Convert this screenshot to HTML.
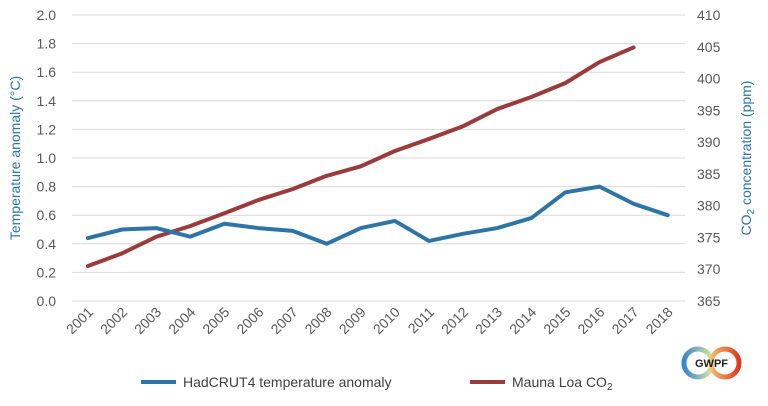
<!DOCTYPE html>
<html><head><meta charset="utf-8"><style>
body{margin:0;background:#fff;}
svg{display:block;font-family:"Liberation Sans",sans-serif;}
</style></head><body>
<svg id="chart" width="768" height="406" viewBox="0 0 768 406">
<defs>
<linearGradient id="gl" x1="0" x2="1"><stop offset="0" stop-color="#3a86c8"/><stop offset="1" stop-color="#d9e8a0"/></linearGradient>
<linearGradient id="gr" x1="0" x2="1"><stop offset="0" stop-color="#f0c070"/><stop offset="1" stop-color="#e03a1e"/></linearGradient>
</defs>
<g id="grid"></g><g id="axes"></g><g id="series"></g>
<text transform="translate(20,158) rotate(-90)" text-anchor="middle" font-size="14" fill="#2e75a6">Temperature anomaly (°C)</text>
<text transform="translate(751,158) rotate(-90)" text-anchor="middle" font-size="14" fill="#2e75a6">CO<tspan font-size="10" dy="3">2</tspan><tspan dy="-3"> concentration (ppm)</tspan></text>
<g>
<line x1="141" y1="382" x2="176" y2="382" stroke="#2e75a6" stroke-width="4"/>
<text x="183" y="387" font-size="14" fill="#404040">HadCRUT4 temperature anomaly</text>
<line x1="470" y1="382" x2="505" y2="382" stroke="#9b3b3b" stroke-width="4"/>
<text x="512" y="387" font-size="14" fill="#404040">Mauna Loa CO<tspan font-size="10" dy="3">2</tspan></text>
</g>
<g>
<circle cx="698" cy="363" r="14" fill="none" stroke="url(#gl)" stroke-width="5"/>
<circle cx="725" cy="363" r="14" fill="none" stroke="url(#gr)" stroke-width="5"/>
<text x="711.5" y="367" text-anchor="middle" font-size="11" font-weight="bold" fill="#222">GWPF</text>
</g>
</svg>
<script>
const years=["2001","2002","2003","2004","2005","2006","2007","2008","2009","2010","2011","2012","2013","2014","2015","2016","2017","2018"];
const tempValues=[0.44,0.50,0.51,0.45,0.54,0.51,0.49,0.40,0.51,0.56,0.42,0.47,0.51,0.58,0.76,0.80,0.68,0.60];
const co2Values=[370.5,372.5,375.1,376.8,378.8,380.9,382.6,384.7,386.2,388.6,390.5,392.5,395.2,397.1,399.3,402.6,404.9];
const leftTicks=[0,0.2,0.4,0.6,0.8,1.0,1.2,1.4,1.6,1.8,2.0];
const rightTicks=[365,370,375,380,385,390,395,400,405,410];
const NS="http://www.w3.org/2000/svg";
const top0=15,bot=301,x0=88,step=34.1;
const xs=i=>x0+i*step;
const yL=v=>bot-(v-0)/2*(bot-top0);
const yR=v=>bot-(v-365)/45*(bot-top0);
function mk(tag,attrs,parent,txt){const e=document.createElementNS(NS,tag);for(const k in attrs)e.setAttribute(k,attrs[k]);if(txt!==undefined)e.textContent=txt;document.getElementById(parent).appendChild(e);return e;}
leftTicks.forEach(t=>{
 const g=mk('line',{x1:72,x2:685,y1:yL(t),y2:yL(t),stroke:'#d9d9d9','stroke-width':1},'grid');
 
 
 const l=mk('text',{x:56,y:yL(t)+5,'text-anchor':'end','font-size':14,fill:'#595959'},'axes',t.toFixed(1));
 
 
});
rightTicks.forEach(t=>{
 const l=mk('text',{x:697,y:yR(t)+5,'font-size':14,fill:'#595959'},'axes',String(t));
 
 
});
years.forEach((y,i)=>{
 const l=mk('text',{transform:`translate(${xs(i)+6},${313}) rotate(-45)`,'text-anchor':'end','font-size':14,fill:'#595959'},'axes',y);
 
 
});
const p1=mk('polyline',{points:co2Values.map((v,i)=>xs(i)+','+yR(v)).join(' '),fill:'none',stroke:'#9b3b3b','stroke-width':4,'stroke-linejoin':'round','stroke-linecap':'round'},'series');


const p2=mk('polyline',{points:tempValues.map((v,i)=>xs(i)+','+yL(v)).join(' '),fill:'none',stroke:'#2e75a6','stroke-width':4,'stroke-linejoin':'round','stroke-linecap':'round'},'series');


</script>
</body></html>
